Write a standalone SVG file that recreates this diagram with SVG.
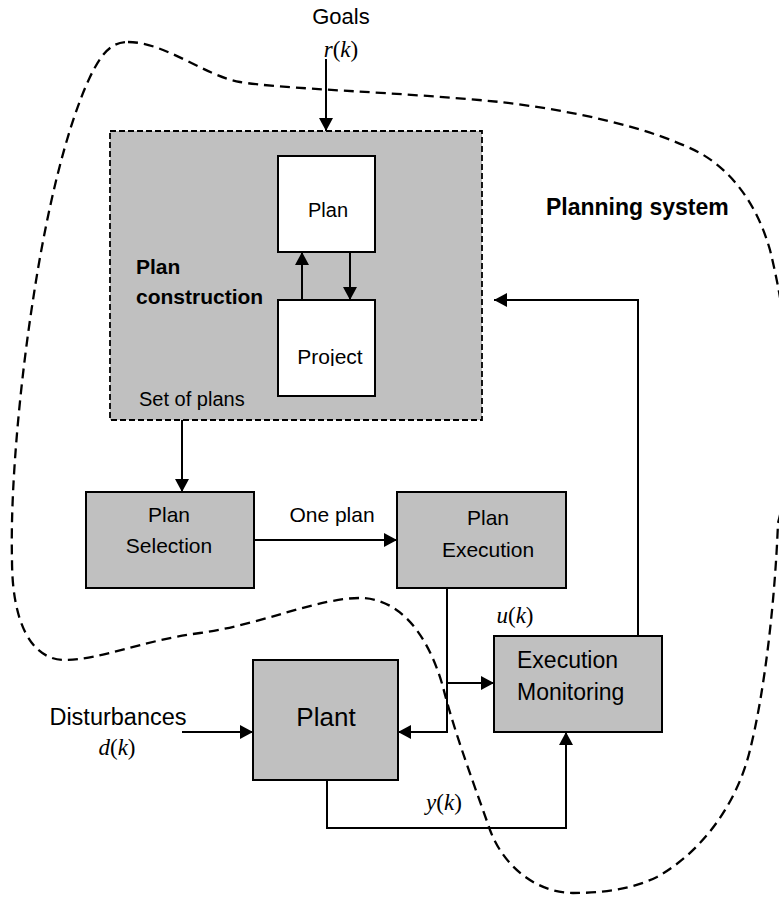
<svg xmlns="http://www.w3.org/2000/svg" width="779" height="897" viewBox="0 0 779 897">
<style>
text{font-family:"Liberation Sans",Arial,sans-serif;fill:#000}
.math{font-family:"Liberation Serif","Times New Roman",serif}
.it{font-style:italic}
.b{font-weight:bold}
.box{fill:#c0c0c0;stroke:#000;stroke-width:2}
.wbox{fill:#fff;stroke:#000;stroke-width:2}
.ln{fill:none;stroke:#000;stroke-width:2}
.arr{marker-end:url(#ah)}
</style>
<defs>
<marker id="ah" markerUnits="userSpaceOnUse" markerWidth="14" markerHeight="14" refX="13" refY="7" orient="auto">
<path d="M0,0 L13,7 L0,14 z" fill="#000"/>
</marker>
<clipPath id="pclip"><rect x="278" y="300" width="97" height="66"/></clipPath>
</defs>

<g id="planning-system">
<path d="M128,42 C165,42 205,76 240,82 C280,89 400,92 500,102 C570,110 650,127 700,153 C735,173 758,208 770,250 C790,330 800,440 778,523 C775,600 765,690 750,750 C738,800 705,850 657,877 C630,890 600,893 573,893 C540,893 505,870 490,830 C478,795 455,735 443,687 C432,648 408,600 362,598 C320,597 260,625 200,633 C140,641 100,660 65,660 C30,660 12,620 12,560 C10,480 22,370 33,300 C45,220 65,130 90,77 C102,52 112,42 128,42 Z" fill="none" stroke="#000" stroke-width="2.3" stroke-dasharray="10 6"/>
<text x="546" y="215" font-size="23" class="b">Planning system</text>
</g>

<g id="plan-construction">
<rect x="110" y="131" width="372" height="289" fill="#c0c0c0" stroke="#000" stroke-width="1.8" stroke-dasharray="6 3"/>
<text x="136" y="274" font-size="21" class="b">Plan</text>
<text x="136" y="304" font-size="21" class="b">construction</text>
<text x="139" y="406" font-size="20">Set of plans</text>
</g>

<g id="plan">
<rect class="wbox" x="278" y="156" width="97" height="96"/>
<text x="328" y="217" font-size="20" text-anchor="middle">Plan</text>
</g>

<g id="project">
<rect class="wbox" x="278" y="300" width="97" height="96"/>
<text x="330" y="364" font-size="21" text-anchor="middle" clip-path="url(#pclip)">Project</text>
</g>

<g id="plan-selection">
<rect class="box" x="86" y="492" width="168" height="96"/>
<text x="169" y="522" font-size="21" text-anchor="middle">Plan</text>
<text x="169" y="553" font-size="21" text-anchor="middle">Selection</text>
</g>

<g id="plan-execution">
<rect class="box" x="397" y="492" width="169" height="96"/>
<text x="488" y="525" font-size="21" text-anchor="middle">Plan</text>
<text x="488" y="557" font-size="21" text-anchor="middle">Execution</text>
</g>

<g id="plant">
<rect class="box" x="253" y="660" width="145" height="120"/>
<text x="326" y="726" font-size="26" text-anchor="middle">Plant</text>
</g>

<g id="execution-monitoring">
<rect class="box" x="494" y="636" width="168" height="96"/>
<text x="517" y="668" font-size="23">Execution</text>
<text x="517" y="700" font-size="23">Monitoring</text>
</g>

<g id="labels">
<text x="341" y="24" font-size="22" text-anchor="middle">Goals</text>
<text x="341" y="57" font-size="23" text-anchor="middle" class="math"><tspan class="it">r</tspan>(<tspan class="it">k</tspan>)</text>
<text x="332" y="522" font-size="21" text-anchor="middle">One plan</text>
<text x="118" y="725" font-size="23.5" text-anchor="middle">Disturbances</text>
<text x="117" y="755" font-size="23" text-anchor="middle" class="math"><tspan class="it">d</tspan>(<tspan class="it">k</tspan>)</text>
<text x="515" y="623" font-size="23" text-anchor="middle" class="math"><tspan class="it">u</tspan>(<tspan class="it">k</tspan>)</text>
<text x="444" y="810" font-size="23" text-anchor="middle" class="math"><tspan class="it">y</tspan>(<tspan class="it">k</tspan>)</text>
</g>

<g id="connectors">
<path class="ln arr" d="M326,59 L326,131"/>
<path class="ln arr" d="M350,252 L350,300"/>
<path class="ln arr" d="M302,300 L302,252"/>
<path class="ln arr" d="M182,420 L182,492"/>
<path class="ln arr" d="M254,540 L397,540"/>
<path class="ln arr" d="M447,588 L447,732 L398,732"/>
<path class="ln arr" d="M447,683 L494,683"/>
<path class="ln arr" d="M182,732 L253,732"/>
<path class="ln arr" d="M327,780 L327,828 L566,828 L566,732"/>
<path class="ln arr" d="M638,636 L638,300 L494,300"/>
</g>
</svg>
